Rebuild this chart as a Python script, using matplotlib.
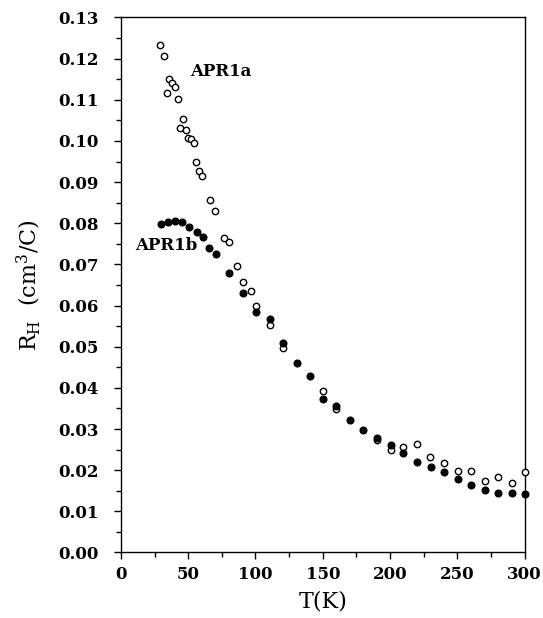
import matplotlib
matplotlib.use('Agg')
import matplotlib.pyplot as plt
from matplotlib.ticker import MultipleLocator

# APR1a (open circles)
t_a = [29.3, 32, 34, 35.9, 37.7, 40.2, 42.2, 43.9, 46.4, 48.6, 50.1, 52.1, 54.5,
       56, 58, 60.5, 66.2, 70.2, 76.4, 80.6, 86.3, 90.5, 96.5, 100.4, 110.6,
       120.5, 150.3, 160.2, 190.2, 200.4, 210, 220.2, 230, 240.3, 250.5, 260,
       270.5, 280.5, 290.7, 300]
rh_a = [0.1233, 0.1207, 0.1116, 0.1150, 0.1140, 0.1131, 0.1101, 0.1031, 0.1053,
        0.1027, 0.1007, 0.1004, 0.0996, 0.0949, 0.0928, 0.0915, 0.0857, 0.0831,
        0.0765, 0.0754, 0.0695, 0.0658, 0.0635, 0.0600, 0.0553, 0.0497, 0.0392,
        0.0349, 0.0273, 0.0249, 0.0256, 0.0264, 0.0233, 0.0217, 0.0197, 0.0199,
        0.0174, 0.0183, 0.0168, 0.0195]

# APR1b (filled circles)
t_b = [29.8, 35.2, 40.4, 45.1, 50.6, 56.5, 60.8, 65.7, 70.7, 80.6, 90.5, 100.4,
       110.6, 120.5, 130.7, 140.2, 150.3, 160.2, 170.2, 180, 190.2, 200.4, 210,
       220.3, 230.2, 240.3, 250.5, 260, 270.5, 280.5, 290.7, 300]
rh_b = [0.0798, 0.0802, 0.0805, 0.0804, 0.0792, 0.0779, 0.0766, 0.0739, 0.0725,
        0.0679, 0.0630, 0.0584, 0.0567, 0.0510, 0.0461, 0.0430, 0.0373, 0.0357,
        0.0322, 0.0298, 0.0278, 0.0260, 0.0241, 0.0219, 0.0207, 0.0196, 0.0179,
        0.0163, 0.0151, 0.0145, 0.0144, 0.0141]

plt.rcParams['font.family'] = 'DejaVu Serif'
plt.rcParams['mathtext.fontset'] = 'dejavuserif'

fig = plt.figure(figsize=(5.43, 6.18), dpi=100)
ax = fig.add_axes([0.2228, 0.106, 0.7432, 0.8657])

ax.plot(t_a, rh_a, 'o', ms=4.6, mfc='white', mec='black', mew=1.0,
        clip_on=False, zorder=3)
ax.plot(t_b, rh_b, 'o', ms=5.0, mfc='black', mec='black', mew=0.8,
        clip_on=False, zorder=4)

ax.text(51.5, 0.1168, 'APR1a', fontsize=12, fontweight='bold', va='center')
ax.text(10.5, 0.0747, 'APR1b', fontsize=12, fontweight='bold', va='center')

ax.set_xlim(0, 300)
ax.set_ylim(0, 0.13)
ax.xaxis.set_major_locator(MultipleLocator(50))
ax.xaxis.set_minor_locator(MultipleLocator(25))
ax.yaxis.set_major_locator(MultipleLocator(0.01))
ax.yaxis.set_minor_locator(MultipleLocator(0.005))
ax.yaxis.set_major_formatter(matplotlib.ticker.FormatStrFormatter('%.2f'))

ax.tick_params(which='major', direction='out', length=5, width=1, labelsize=12)
ax.tick_params(axis='y', which='major', pad=11)
ax.tick_params(axis='x', which='major', pad=5)
ax.tick_params(which='minor', direction='out', length=3.5, width=1)
for lab in ax.get_xticklabels() + ax.get_yticklabels():
    lab.set_fontweight('bold')

for s in ax.spines.values():
    s.set_linewidth(1.0)

ax.set_xlabel('T(K)', fontsize=16, labelpad=5)
ax.set_ylabel(r'R$_\mathrm{H}$  (cm$^3$/C)', fontsize=16, labelpad=11)

fig.savefig('out.png', dpi=100)
